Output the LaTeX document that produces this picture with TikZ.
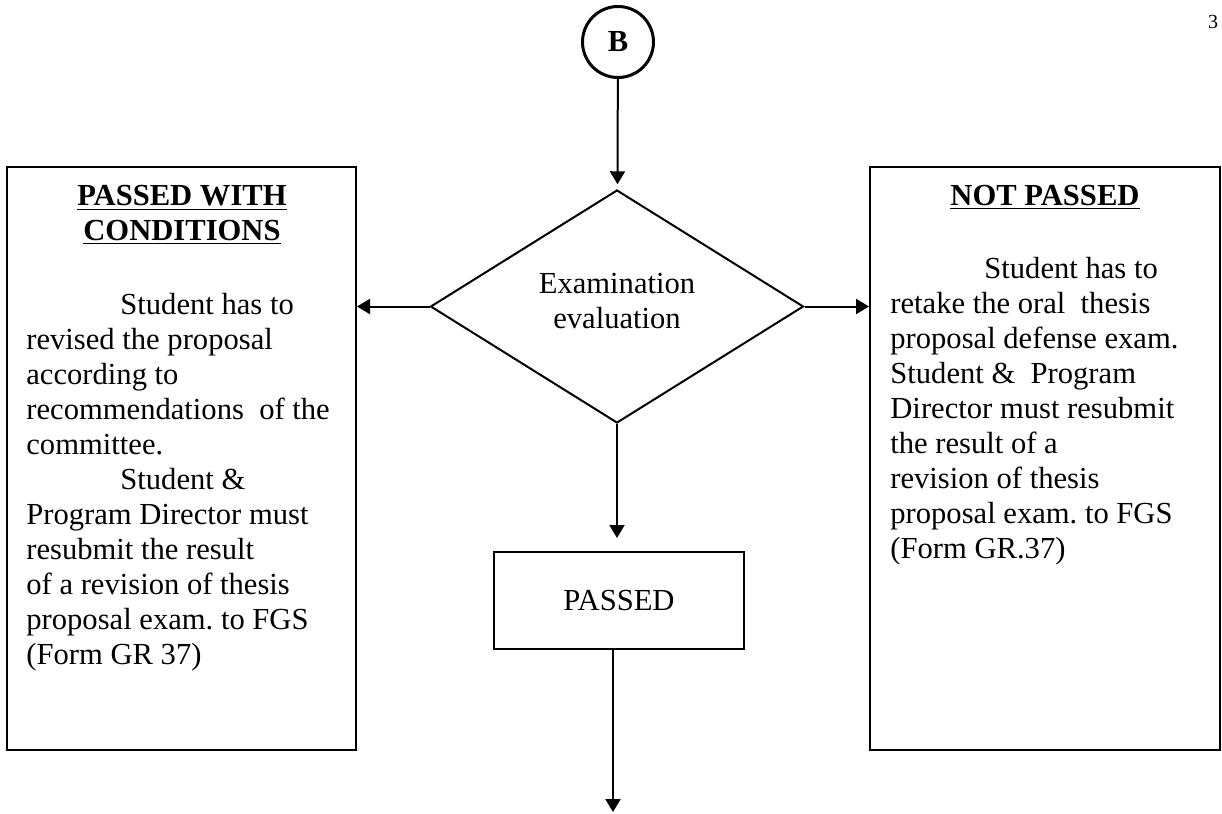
\documentclass[tikz,border=0pt]{standalone}
\usepackage{fontspec}
\setmainfont{Liberation Serif}
\usepackage{tikz}
\usetikzlibrary{shapes.geometric,arrows.meta}
\frenchspacing

\begin{document}
\begin{tikzpicture}[x=0.5pt,y=-0.5pt,
  every node/.style={font=\fontsize{15.3}{17.5}\selectfont},
  box/.style={draw, line width=1pt, inner sep=0pt},
  decision/.style={diamond, draw, line width=1pt, inner sep=0pt, minimum width=186.5pt, minimum height=116.5pt, align=center},
  connector/.style={line width=1pt, -{Triangle[length=6.5pt,width=7.5pt]}}]
\useasboundingbox (0,0) rectangle (1222,814);

% connector B and decision
\node (b) [circle, draw, line width=1.5pt, minimum size=35.5pt, inner sep=0pt, font=\fontsize{15.3}{17.5}\selectfont\bfseries] at (618,42) {B};
\node (eval) [decision, text depth=6pt] at (617,306.5) {Examination\\evaluation};

% the three outcomes
\node (cond) [box, minimum width=174.5pt, minimum height=291.5pt] at (181.5,458.5) {};
\node (notpassed) [box, minimum width=175pt, minimum height=291.5pt] at (1045,458.5) {};
\node (passed) [box, minimum width=125pt, minimum height=48.5pt] at (619,600.5) {PASSED};

% texts of the side boxes
\node (condhead) [anchor=north, align=center, inner sep=0pt, font=\fontsize{15.3}{17.5}\selectfont\bfseries] at (182,185) {\underline{PASSED WITH}\\\underline{CONDITIONS}};
\node (condtext) [anchor=north west, align=left, inner sep=0pt] at (26,293) {\hspace*{47pt}Student has to\\revised the proposal\\according to\\recommendations\ \ of the\\committee.\\\hspace*{47pt}Student \&\\Program Director must\\resubmit the result\\of a revision of thesis\\proposal exam. to FGS\\(Form GR 37)};
\node (nothead) [anchor=north, inner sep=0pt, font=\fontsize{15.3}{17.5}\selectfont\bfseries] at (1045,185) {\underline{NOT PASSED}};
\node (nottext) [anchor=north west, align=left, inner sep=0pt] at (890,257) {\hspace*{47pt}Student has to\\retake the oral\ \ thesis\\proposal defense exam.\\Student \&\ \ Program\\Director must resubmit\\the result of a\\revision of thesis\\proposal exam. to FGS\\(Form GR.37)};

\node (pagenum) [font=\fontsize{10}{12}\selectfont] at (1213,22) {3};

\coordinate (out) at (613,812);
\draw [connector, shorten >=2.5pt] (b) -- (eval);
\draw [connector] (eval.west) -- (eval.west -| cond.east);
\draw [connector] (eval.east) -- (eval.east -| notpassed.west);
\draw [connector, shorten >=6.5pt] (eval.south) -- (eval.south |- passed.north);
\draw [connector] (out |- passed.south) -- (out);
\end{tikzpicture}
\end{document}
